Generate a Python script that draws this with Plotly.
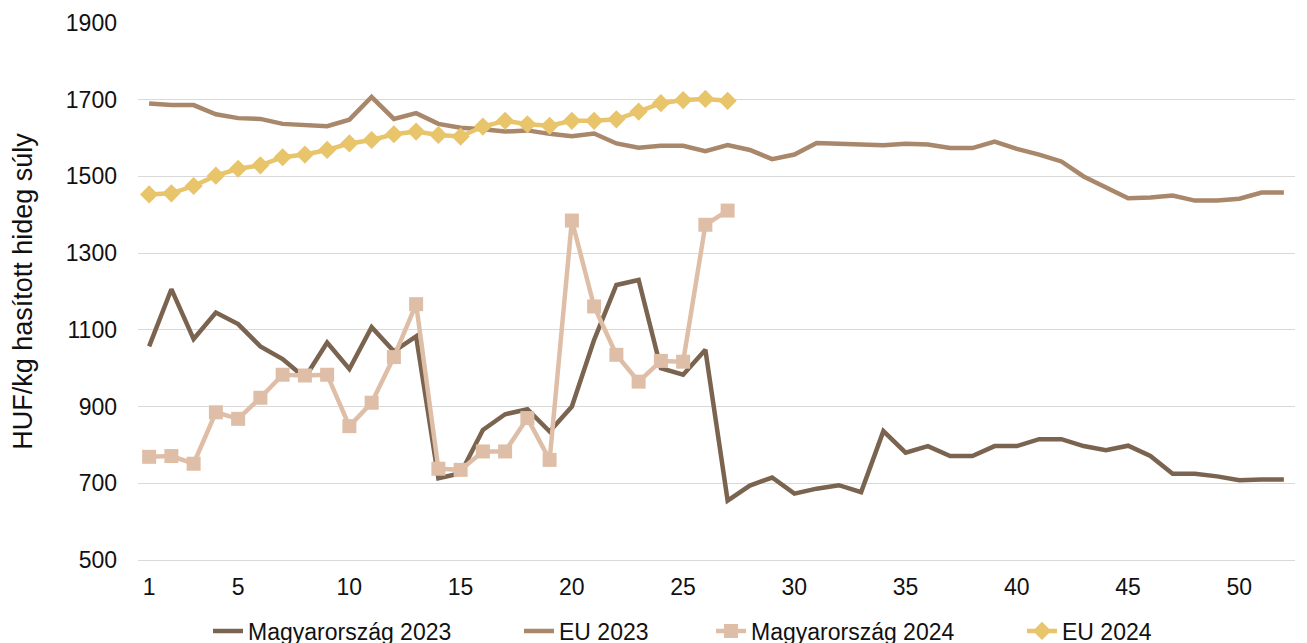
import plotly.graph_objects as go

weeks_2023 = list(range(1, 53))
weeks_2024 = list(range(1, 28))

mo_2023 = [1057, 1206, 1076, 1145, 1115, 1057, 1024, 975, 1067, 998, 1107, 1044, 1083,
           713, 726, 839, 880, 893, 835, 900, 1074, 1217, 1230, 1000, 983, 1048, 655,
           694, 715, 673, 686, 695, 677, 836, 780, 797, 771, 771, 797, 797, 815, 815,
           797, 786, 798, 771, 725, 725, 718, 708, 710, 710]
eu_2023 = [1690, 1686, 1686, 1662, 1652, 1650, 1637, 1635, 1631, 1648, 1707, 1650, 1665,
           1637, 1627, 1623, 1617, 1620, 1611, 1605, 1612, 1586, 1575, 1580, 1580, 1566,
           1582, 1569, 1545, 1557, 1587, 1585, 1584, 1581, 1585, 1583, 1574, 1574, 1591,
           1572, 1557, 1539, 1500, 1470, 1443, 1445, 1450, 1437, 1437, 1442, 1458, 1458]
mo_2024 = [769, 771, 751, 885, 868, 923, 983, 981, 983, 849, 910, 1029, 1167, 738, 735,
           783, 783, 870, 761, 1385, 1161, 1035, 965, 1019, 1017, 1374, 1411]
eu_2024 = [1453, 1456, 1475, 1502, 1520, 1529, 1550, 1557, 1569, 1586, 1595, 1610, 1617,
           1608, 1604, 1630, 1645, 1636, 1632, 1645, 1645, 1649, 1669, 1691, 1699, 1702, 1697]

names = ["Magyarország 2023", "EU 2023", "Magyarország 2024", "EU 2024"]
x_ticks = [1, 5, 10, 15, 20, 25, 30, 35, 40, 45, 50]
y_ticks = [500, 700, 900, 1100, 1300, 1500, 1700, 1900]
y_title = "HUF/kg hasított hideg súly"

c_mo23 = "#7a6450"
c_eu23 = "#a8876b"
c_mo24 = "#dfbea7"
c_eu24 = "#e8c46a"

FONT = "Liberation Sans, Arial, sans-serif"
fs = 23

# page body has an 8px default margin: shift the figure accordingly
W, H = 1299, 643

fig = go.Figure()
fig.add_trace(go.Scatter(x=weeks_2023, y=mo_2023, name=names[0], mode="lines",
                         line=dict(color=c_mo23, width=4.5), legend="legend"))
fig.add_trace(go.Scatter(x=weeks_2023, y=eu_2023, name=names[1], mode="lines",
                         line=dict(color=c_eu23, width=4.5), legend="legend2"))
fig.add_trace(go.Scatter(x=weeks_2024, y=mo_2024, name=names[2], mode="lines+markers",
                         line=dict(color=c_mo24, width=4.5),
                         marker=dict(symbol="square", size=14, color=c_mo24),
                         legend="legend3"))
fig.add_trace(go.Scatter(x=weeks_2024, y=eu_2024, name=names[3], mode="lines+markers",
                         line=dict(color=c_eu24, width=4.5),
                         marker=dict(symbol="diamond", size=14, color=c_eu24),
                         legend="legend4"))

leg_common = dict(orientation="h", xref="container", yref="container", yanchor="middle",
                  y=1 - 623 / H, xanchor="left", bgcolor="rgba(0,0,0,0)",
                  font=dict(family=FONT, size=fs, color="#111"))
text_starts = [249, 560, 752, 1063]
leg_x = [(t - 8 - 41) / W for t in text_starts]

fig.update_layout(
    width=W, height=H,
    margin=dict(l=130, r=12, t=15, b=91, autoexpand=False),
    paper_bgcolor="white", plot_bgcolor="white",
    font=dict(family=FONT, size=fs, color="#111"),
    showlegend=True,
    legend=dict(leg_common, x=leg_x[0]),
    legend2=dict(leg_common, x=leg_x[1]),
    legend3=dict(leg_common, x=leg_x[2]),
    legend4=dict(leg_common, x=leg_x[3]),
    xaxis=dict(range=[0.5, 52.5], tickvals=x_ticks, showgrid=False, zeroline=False,
               showline=True, linecolor="#d9d9d9", linewidth=1.3, ticks="",
               ticklabelstandoff=6, tickfont=dict(family=FONT, size=fs, color="#111")),
    yaxis=dict(range=[500, 1900], tickvals=y_ticks, showgrid=True, gridcolor="#d9d9d9",
               gridwidth=1.3, zeroline=False, showline=False, ticks="",
               ticklabelstandoff=20, tickfont=dict(family=FONT, size=fs, color="#111"),
               title=dict(text=y_title, standoff=26,
                          font=dict(family=FONT, size=27, color="#111"))),
)

fig.write_html("out.html")
